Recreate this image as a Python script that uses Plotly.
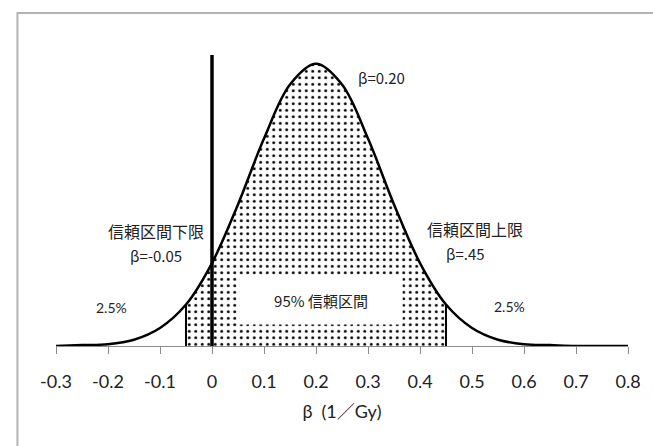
import plotly.graph_objects as go

# Sampling density of beta (estimate 0.20, 95% CI -0.05 to 0.45)
beta = [-0.30, -0.25, -0.20, -0.15, -0.10, -0.05, 0.00, 0.05, 0.10, 0.15, 0.20,
        0.25, 0.30, 0.35, 0.40, 0.45, 0.50, 0.55, 0.60, 0.65, 0.70, 0.75, 0.80]
density = [0.00, 0.01, 0.02, 0.07, 0.20, 0.46, 0.92, 1.57, 2.30, 2.90, 3.13,
           2.90, 2.30, 1.57, 0.92, 0.46, 0.20, 0.07, 0.02, 0.01, 0.00, 0.00, 0.00]

ci_low, ci_high = -0.05, 0.45
estimate = 0.20

tick_vals = [-0.3, -0.2, -0.1, 0.0, 0.1, 0.2, 0.3, 0.4, 0.5, 0.6, 0.7, 0.8]
tick_text = ["-0.3", "-0.2", "-0.1", "0", "0.1", "0.2", "0.3", "0.4", "0.5", "0.6", "0.7", "0.8"]

y_top = 3.227

ci_x = [b for b in beta if ci_low - 1e-9 <= b <= ci_high + 1e-9]
ci_y = [d for b, d in zip(beta, density) if ci_low - 1e-9 <= b <= ci_high + 1e-9]
y_low = density[beta.index(ci_low)]
y_high = density[beta.index(ci_high)]

fig = go.Figure()

# dotted 95% interval area
fig.add_trace(go.Scatter(
    x=ci_x, y=ci_y, mode="lines", line=dict(width=0, shape="spline"),
    fill="tozeroy", fillcolor="white",
    fillpattern=dict(shape=".", size=6.5, solidity=0.16,
                     fgcolor="black", bgcolor="white", fgopacity=1),
    hoverinfo="skip", showlegend=False))

# interval bounds
for xb, yb in ((ci_low, y_low), (ci_high, y_high)):
    fig.add_trace(go.Scatter(x=[xb, xb], y=[0, yb], mode="lines",
                             line=dict(color="black", width=2),
                             hoverinfo="skip", showlegend=False))

# beta = 0 reference line
fig.add_trace(go.Scatter(x=[0, 0], y=[0, y_top], mode="lines",
                         line=dict(color="black", width=3.5),
                         hoverinfo="skip", showlegend=False))

# density curve
fig.add_trace(go.Scatter(x=beta, y=density, mode="lines",
                         line=dict(color="black", width=2.5, shape="spline"),
                         hoverinfo="skip", showlegend=False))

cjk = "Noto Sans CJK JP"
lat = "Lato, 'Noto Sans CJK JP'"
ink = "#222"


def note(x, y, text, size, family=cjk, **kw):
    fig.add_annotation(x=x, y=y, xref="x", yref="y", text=text, showarrow=False,
                       font=dict(family=family, size=size, color=ink), **kw)


note(0.21, 0.51, "95% 信頼区間", 15, bgcolor="white", width=160, height=46)
note(-0.108, 1.28, "信頼区間下限", 16)
note(-0.108, 1.00, "β=-0.05", 15)
note(0.505, 1.30, "信頼区間上限", 16)
note(0.488, 1.03, "β=.45", 15)
note(0.325, 2.98, "β=0.20", 15)
note(-0.193, 0.43, "2.5%", 14, family=lat)
note(0.573, 0.44, "2.5%", 14, family=lat)

# outer frame
fig.add_shape(type="rect", xref="paper", yref="paper",
              x0=-0.0674, x1=3, y0=-3, y1=1.144,
              line=dict(color="#b3b3b3", width=2), fillcolor="rgba(0,0,0,0)",
              layer="below")

fig.update_layout(
    width=653, height=446,
    margin=dict(l=56, r=18, t=55, b=100),
    paper_bgcolor="white", plot_bgcolor="white",
    showlegend=False,
    xaxis=dict(range=[-0.3, 0.8], tickvals=tick_vals, ticktext=tick_text,
               ticks="outside", ticklen=7, tickcolor="#8c8c8c", tickwidth=1,
               showline=True, linecolor="#8c8c8c", linewidth=1,
               showgrid=False, zeroline=False,
               tickfont=dict(family=lat, size=18, color=ink),
               ticklabelstandoff=12,
               title=dict(text="β\u2002(1／Gy)", font=dict(family=lat, size=18, color=ink),
                          standoff=14)),
    yaxis=dict(range=[0, y_top], visible=False, showgrid=False, zeroline=False),
)

fig.write_html("out.html")
